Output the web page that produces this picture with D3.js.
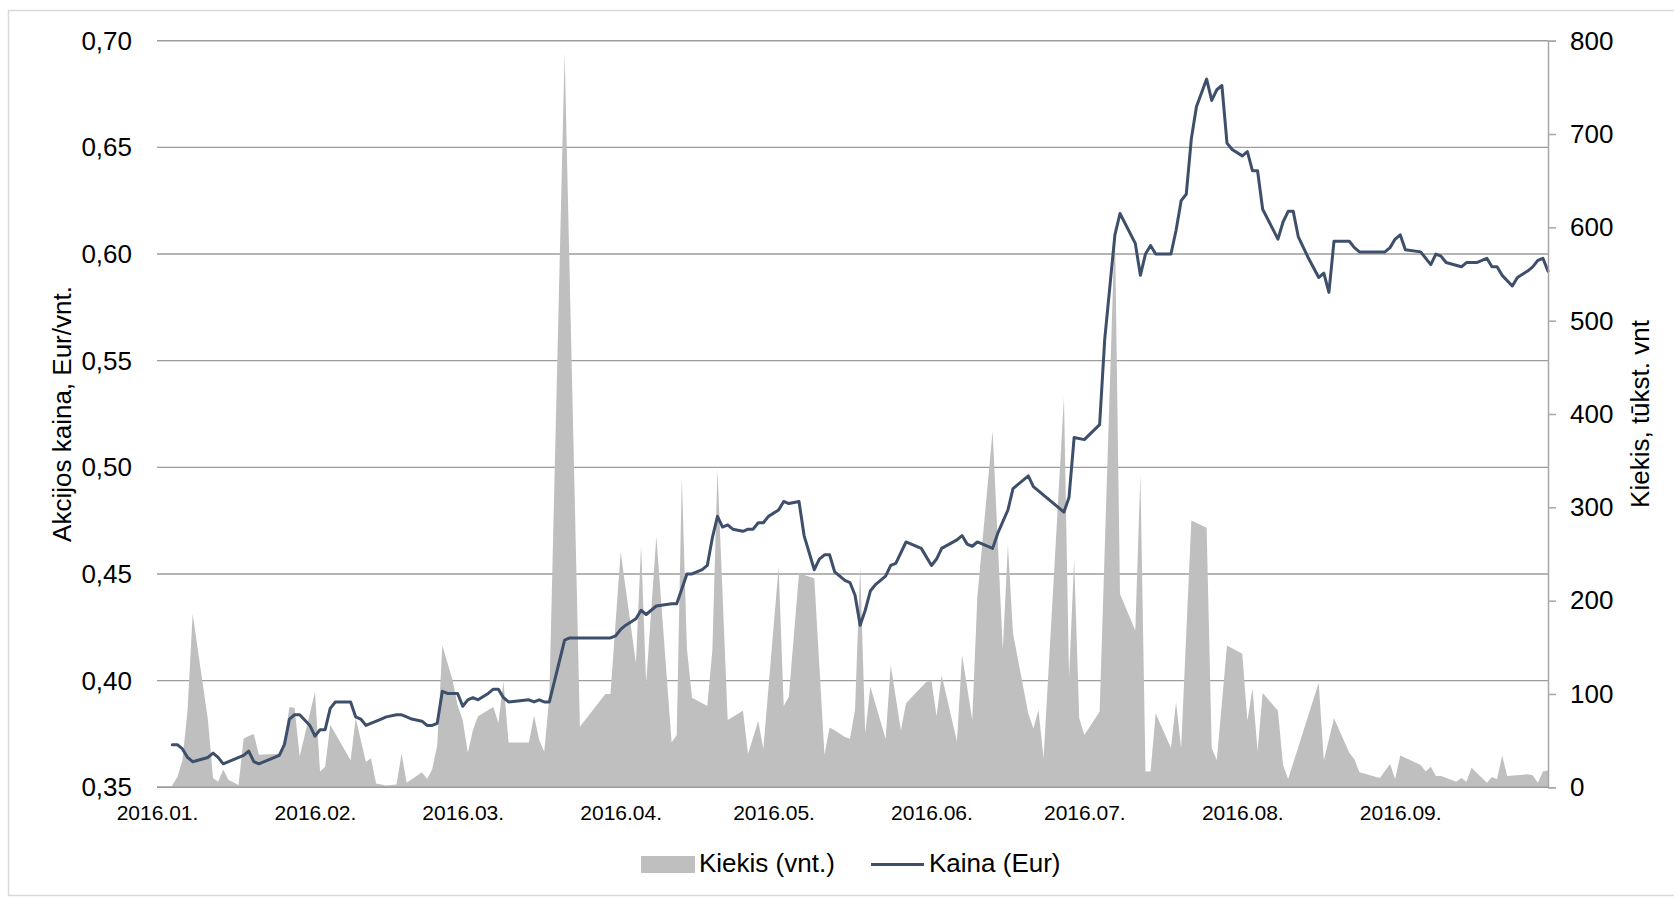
<!DOCTYPE html>
<html>
<head>
<meta charset="utf-8">
<script src="https://cdn.jsdelivr.net/npm/d3@7"></script>
<style>
  html, body { margin: 0; padding: 0; background: #fff; }
  svg { display: block; font-family: "Liberation Sans", Arial, sans-serif; }
</style>
</head>
<body>
<svg id="chart" width="1674" height="898"></svg>
<script>
// ---------- DATA ----------
const priceDates = ["01-04","01-05","01-06","01-07","01-08","01-11","01-12","01-13","01-14","01-16","01-18","01-19","01-20","01-21","01-23","01-25","01-26","01-27","01-28","01-29","01-31",
"02-01","02-02","02-03","02-04","02-05","02-08","02-09","02-10","02-11","02-14","02-15","02-17","02-18","02-19","02-20","02-22","02-23","02-24","02-25","02-26","02-27","02-29",
"03-01","03-02","03-03","03-04","03-06","03-07","03-08","03-09","03-10","03-14","03-15","03-16","03-17","03-18","03-21","03-22","03-30","03-31",
"04-01","04-02","04-04","04-05","04-06","04-07","04-08","04-11","04-12","04-13","04-14","04-15","04-17","04-18","04-19","04-20","04-21","04-22","04-23","04-25","04-26","04-27","04-28","04-29","04-30",
"05-02","05-03","05-04","05-06","05-07","05-09","05-10","05-11","05-12","05-13","05-15","05-16","05-17","05-18","05-19","05-20","05-21","05-23","05-24","05-25","05-27","05-30",
"06-01","06-02","06-03","06-06","06-07","06-08","06-09","06-10","06-13","06-14","06-16","06-17","06-20","06-21","06-27","06-28","06-29",
"07-01","07-04","07-05","07-07","07-08","07-11","07-12","07-13","07-14","07-15","07-18","07-19","07-20","07-21","07-22","07-23","07-25","07-26","07-27","07-28","07-29","07-30",
"08-01","08-02","08-03","08-04","08-05","08-08","08-09","08-10","08-11","08-12","08-14","08-16","08-17","08-18","08-19","08-22","08-23","08-24","08-29","08-30","08-31",
"09-01","09-02","09-05","09-07","09-08","09-09","09-10","09-13","09-14","09-16","09-18","09-19","09-20","09-21","09-23","09-24","09-26","09-27","09-28","09-29","09-30"];
const priceValues = [0.370,0.370,0.368,0.364,0.362,0.364,0.366,0.364,0.361,0.363,0.365,0.367,0.362,0.361,0.363,0.365,0.370,0.382,0.384,0.384,0.379,
0.374,0.377,0.377,0.387,0.390,0.390,0.383,0.382,0.379,0.382,0.383,0.384,0.384,0.383,0.382,0.381,0.379,0.379,0.380,0.395,0.394,0.394,
0.388,0.391,0.392,0.391,0.394,0.396,0.396,0.392,0.390,0.391,0.390,0.391,0.390,0.390,0.419,0.420,0.420,0.421,
0.424,0.426,0.429,0.433,0.431,0.433,0.435,0.436,0.436,0.443,0.450,0.450,0.452,0.454,0.467,0.477,0.472,0.473,0.471,0.470,0.471,0.471,0.474,0.474,0.477,
0.480,0.484,0.483,0.484,0.468,0.452,0.457,0.459,0.459,0.451,0.447,0.446,0.440,0.426,0.433,0.442,0.445,0.449,0.454,0.455,0.465,0.462,
0.454,0.457,0.462,0.466,0.468,0.464,0.463,0.465,0.462,0.469,0.480,0.490,0.496,0.491,0.479,0.486,0.514,
0.513,0.520,0.560,0.609,0.619,0.605,0.590,0.600,0.604,0.600,0.600,0.611,0.625,0.628,0.654,0.669,0.682,0.672,0.677,0.679,0.652,0.649,
0.646,0.648,0.639,0.639,0.621,0.607,0.615,0.620,0.620,0.608,0.598,0.589,0.591,0.582,0.606,0.606,0.603,0.601,0.601,0.603,0.607,
0.609,0.602,0.601,0.595,0.600,0.599,0.596,0.594,0.596,0.596,0.598,0.594,0.594,0.590,0.585,0.589,0.592,0.594,0.597,0.598,0.592];

const volumeDates = ["01-04","01-05","01-06","01-07","01-08","01-11","01-12","01-13","01-14","01-15","01-17","01-18","01-19","01-20","01-21","01-25","01-26","01-27","01-28","01-29",
"02-01","02-02","02-03","02-04","02-08","02-09","02-11","02-12","02-13","02-15","02-17","02-18","02-19","02-22","02-23","02-24","02-25","02-26","02-28","02-29",
"03-01","03-02","03-03","03-04","03-07","03-08","03-09","03-10","03-14","03-15","03-16","03-17","03-18","03-21","03-24","03-29","03-30",
"04-01","04-04","04-05","04-06","04-08","04-11","04-12","04-13","04-14","04-15","04-18","04-19","04-20","04-22","04-25","04-26","04-28","04-29",
"05-02","05-03","05-04","05-06","05-09","05-11","05-12","05-13","05-15","05-16","05-17","05-18","05-19","05-20","05-23","05-24","05-26","05-27","05-31",
"06-01","06-02","06-03","06-06","06-07","06-09","06-10","06-13","06-15","06-16","06-17","06-20","06-21","06-22","06-23","06-27","06-28","06-29","06-30",
"07-01","07-04","07-07","07-08","07-11","07-12","07-13","07-14","07-15","07-18","07-19","07-20","07-22","07-25","07-26","07-27","07-29",
"08-01","08-02","08-03","08-04","08-05","08-08","08-09","08-10","08-16","08-17","08-19","08-22","08-23","08-24","08-28","08-30","08-31",
"09-01","09-05","09-06","09-07","09-08","09-09","09-12","09-13","09-14","09-15","09-18","09-19","09-20","09-21","09-22","09-26","09-27","09-28","09-29","09-30"];
const volumeValues = [2.5,11,29,83,186,72,10,6,19,8,2.5,52,55,57,35,36,50,86,85,33,
102,17,22,67,29,74,27,31,4,2,3,36,5,16,9,19,45,152,115,88,
72,37,61,76,86,69,113,48,48,77,51,38,97,787,65,100,100,
252,133,259,111,269,48,56,332,149,96,87,147,341,72,82,36,71,41,
236,87,97,229,224,35,64,61,54,52,83,236,58,108,52,131,61,90,113,
114,76,120,49,142,72,204,382,147,260,165,79,63,83,31,418,118,244,74,
56,81,603,207,168,335,17,17,79,42,91,42,286,278,42,29,152,
143,71,106,39,101,82,24,9,112,29,74,37,30,16,10,25,9,
34,24,17,22,12,12,6,10,6,21,5,11,8.6,34,12,14,13,5,17,18];

const monthTicks  = ["2016-01-01","2016-02-01","2016-03-01","2016-04-01","2016-05-01","2016-06-01","2016-07-01","2016-08-01","2016-09-01"];
const monthLabels = ["2016.01.","2016.02.","2016.03.","2016.04.","2016.05.","2016.06.","2016.07.","2016.08.","2016.09."];
const priceTicks  = [0.35,0.40,0.45,0.50,0.55,0.60,0.65,0.70];
const volumeTicks = [0,100,200,300,400,500,600,700,800];
const leftTitle  = "Akcijos kaina, Eur/vnt.";
const rightTitle = "Kiekis, tūkst. vnt";
const legendArea = "Kiekis (vnt.)";
const legendLine = "Kaina (Eur)";

// ---------- CHART ----------
const svg = d3.select("#chart");
const L = 157, R = 1548, T = 40.7, B = 787.3;
const parse = d3.utcParse("%Y-%m-%d");

const x = d3.scaleUtc().domain([parse("2016-01-01"), parse("2016-09-30")]).range([L, R]);
const yP = d3.scaleLinear().domain([0.35, 0.70]).range([B, T]);
const yV = d3.scaleLinear().domain([0, 800]).range([B, T]);

const price = priceDates.map((d, i) => ({ date: parse("2016-" + d), v: priceValues[i] }));
const volume = volumeDates.map((d, i) => ({ date: parse("2016-" + d), v: volumeValues[i] }));

// outer frame
svg.append("rect").attr("x", 8.5).attr("y", 10.5).attr("width", 1700).attr("height", 885)
  .attr("fill", "none").attr("stroke", "#d9d9d9").attr("stroke-width", 1.5);

// gridlines
svg.append("g").selectAll("line").data(priceTicks).join("line")
  .attr("x1", L).attr("x2", R)
  .attr("y1", d => yP(d)).attr("y2", d => yP(d))
  .attr("stroke", "#9c9c9c").attr("stroke-width", 1.4);

// volume area
const area = d3.area().x(d => x(d.date)).y0(yV(0)).y1(d => yV(d.v));
svg.append("path").datum(volume).attr("d", area).attr("fill", "#bfbfbf");

// bottom axis line
svg.append("line").attr("x1", L).attr("x2", R).attr("y1", B).attr("y2", B)
  .attr("stroke", "#9c9c9c").attr("stroke-width", 1.5);

// price line
const line = d3.line().x(d => x(d.date)).y(d => yP(d.v));
svg.append("path").datum(price).attr("d", line)
  .attr("fill", "none").attr("stroke", "#3d4f6a").attr("stroke-width", 3)
  .attr("stroke-linejoin", "round").attr("stroke-linecap", "round");

// left axis labels
const fmt = d3.format(".2f");
svg.append("g").selectAll("text").data(priceTicks).join("text")
  .attr("x", 132).attr("y", d => yP(d)).attr("dy", "0.35em")
  .attr("text-anchor", "end").attr("font-size", 26).attr("fill", "#000")
  .text(d => fmt(d).replace(".", ","));

// right axis (line + ticks + labels)
const rAxis = d3.axisRight(yV).tickValues(volumeTicks).tickSize(8).tickPadding(14)
  .tickFormat(d3.format("d"));
const rg = svg.append("g").attr("transform", `translate(${R},0)`).call(rAxis);
rg.select(".domain").attr("stroke", "#a6a6a6").attr("stroke-width", 1.5);
rg.selectAll(".tick line").attr("stroke", "#a6a6a6").attr("stroke-width", 1.5);
rg.selectAll(".tick text").attr("font-size", 26).attr("fill", "#000")
  .attr("font-family", "Liberation Sans, Arial, sans-serif");

// x axis labels
const xAxis = d3.axisBottom(x).tickValues(monthTicks.map(parse)).tickSize(0).tickPadding(0)
  .tickFormat((d, i) => monthLabels[i]);
const xg = svg.append("g").attr("transform", `translate(0,${B})`).call(xAxis);
xg.select(".domain").remove();
xg.selectAll(".tick text").attr("font-size", 21).attr("fill", "#000")
  .attr("font-family", "Liberation Sans, Arial, sans-serif")
  .attr("dy", null).attr("y", 33);

// axis titles
svg.append("text").attr("transform", "translate(71,414) rotate(-90)")
  .attr("text-anchor", "middle").attr("font-size", 26).attr("fill", "#000").text(leftTitle);
svg.append("text").attr("transform", "translate(1649,414) rotate(-90)")
  .attr("text-anchor", "middle").attr("font-size", 26).attr("fill", "#000").text(rightTitle);

// legend
const lg = svg.append("g");
lg.append("rect").attr("x", 641).attr("y", 856).attr("width", 54).attr("height", 17).attr("fill", "#bfbfbf");
lg.append("text").attr("x", 699).attr("y", 872).attr("font-size", 26).attr("fill", "#000").text(legendArea);
lg.append("line").attr("x1", 871).attr("x2", 924).attr("y1", 864.5).attr("y2", 864.5)
  .attr("stroke", "#3d4f6a").attr("stroke-width", 3);
lg.append("text").attr("x", 929).attr("y", 872).attr("font-size", 26).attr("fill", "#000").text(legendLine);
</script>
</body>
</html>
